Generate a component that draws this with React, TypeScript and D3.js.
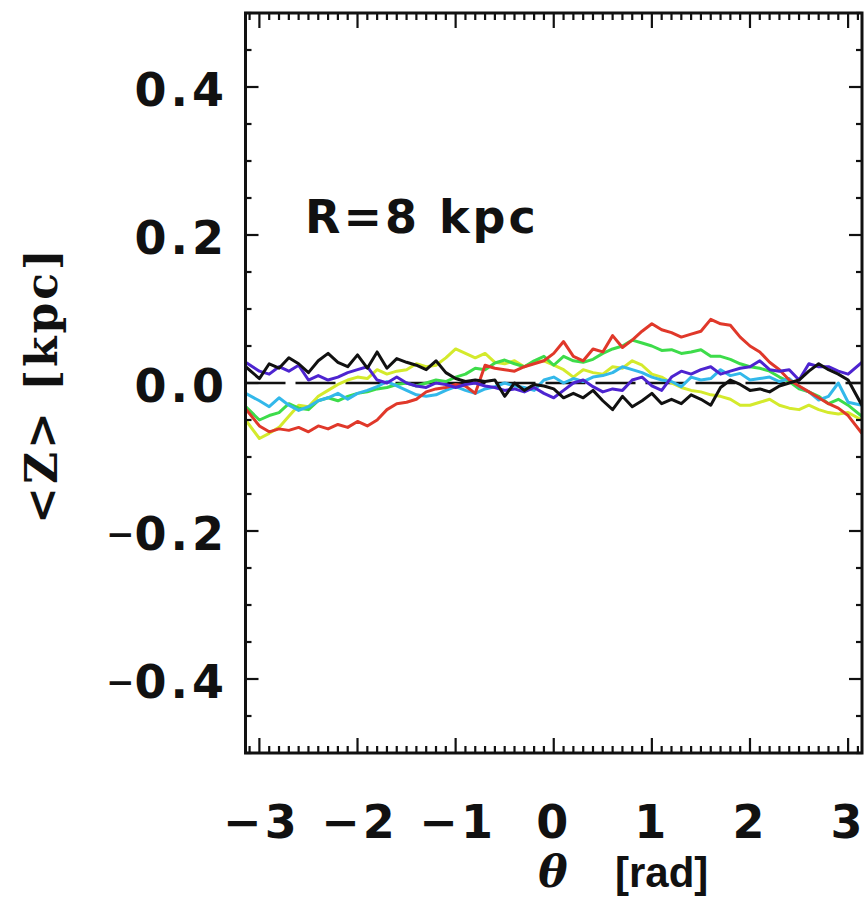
import React from "react";
import * as d3 from "d3";

const THETA = [-3.14, -3.0, -2.9, -2.8, -2.7, -2.6, -2.5, -2.4, -2.3, -2.2, -2.1, -2.0, -1.9, -1.8, -1.7, -1.6, -1.5, -1.4, -1.3, -1.2, -1.1, -1.0, -0.9, -0.8, -0.7, -0.6, -0.5, -0.4, -0.3, -0.2, -0.1, 0.0, 0.1, 0.2, 0.3, 0.4, 0.5, 0.6, 0.7, 0.8, 0.9, 1.0, 1.1, 1.2, 1.3, 1.4, 1.5, 1.6, 1.7, 1.8, 1.9, 2.0, 2.1, 2.2, 2.3, 2.4, 2.5, 2.6, 2.7, 2.8, 2.9, 3.0, 3.14];

const BLACK = [0.022, 0.006, 0.026, 0.02, 0.034, 0.026, 0.014, 0.03, 0.04, 0.028, 0.022, 0.038, 0.02, 0.042, 0.02, 0.033, 0.028, 0.024, 0.018, 0.03, 0.014, 0.006, 0.002, 0.004, 0.002, 0.004, -0.018, 0.0, -0.01, -0.002, -0.004, -0.008, -0.02, -0.014, -0.02, -0.01, -0.024, -0.036, -0.018, -0.032, -0.024, -0.014, -0.028, -0.022, -0.028, -0.016, -0.022, -0.03, -0.006, 0.004, -0.002, -0.01, -0.008, -0.012, -0.004, 0.0, 0.004, 0.016, 0.026, 0.018, 0.012, 0.004, -0.03];

const PURPLE = [0.028, 0.016, 0.012, 0.022, 0.016, 0.024, 0.004, 0.01, 0.004, 0.008, 0.014, 0.018, 0.022, 0.004, 0.0, 0.008, 0.0, -0.004, -0.006, 0.0, -0.002, -0.006, -0.002, 0.0, -0.004, -0.006, -0.01, -0.008, -0.012, -0.006, -0.014, -0.02, -0.01, 0.0, 0.004, -0.005, -0.012, -0.008, -0.01, 0.004, 0.008, -0.004, -0.01, 0.008, 0.016, 0.012, 0.018, 0.022, 0.012, 0.016, 0.02, 0.022, 0.03, 0.018, 0.016, 0.018, 0.004, 0.026, 0.022, 0.022, 0.016, 0.012, 0.028];

const CYAN = [-0.014, -0.024, -0.032, -0.02, -0.03, -0.037, -0.032, -0.024, -0.02, -0.014, -0.022, -0.014, -0.01, -0.005, 0.002, -0.004, -0.01, -0.016, -0.018, -0.016, -0.01, -0.005, -0.01, -0.014, -0.008, -0.005, 0.0, -0.004, -0.006, -0.01, 0.004, 0.008, 0.0, 0.006, 0.002, 0.008, 0.01, 0.014, 0.022, 0.018, 0.014, 0.008, 0.004, 0.002, -0.005, 0.008, 0.004, 0.006, 0.018, 0.01, 0.013, 0.004, 0.006, 0.008, 0.002, 0.006, -0.005, -0.012, -0.023, -0.018, 0.0, -0.026, -0.03];

const GREEN = [-0.032, -0.05, -0.044, -0.04, -0.028, -0.034, -0.036, -0.024, -0.02, -0.024, -0.018, -0.014, -0.012, -0.008, -0.006, -0.002, 0.0, -0.004, 0.0, 0.004, 0.002, 0.008, 0.012, 0.02, 0.018, 0.027, 0.031, 0.026, 0.022, 0.03, 0.036, 0.024, 0.036, 0.03, 0.028, 0.032, 0.04, 0.046, 0.05, 0.058, 0.054, 0.05, 0.044, 0.045, 0.04, 0.042, 0.045, 0.036, 0.036, 0.032, 0.026, 0.022, 0.02, 0.016, 0.008, 0.002, -0.008, -0.012, -0.018, -0.028, -0.022, -0.03, -0.045];

const YELLOW = [-0.05, -0.075, -0.068, -0.06, -0.045, -0.03, -0.032, -0.018, -0.01, -0.002, 0.004, 0.008, 0.006, 0.018, 0.012, 0.016, 0.018, 0.026, 0.022, 0.024, 0.034, 0.046, 0.04, 0.034, 0.04, 0.028, 0.026, 0.03, 0.022, 0.028, 0.03, 0.024, 0.018, 0.008, 0.018, 0.014, 0.012, 0.022, 0.02, 0.03, 0.024, 0.012, 0.008, 0.0, -0.006, -0.01, -0.012, -0.016, -0.018, -0.022, -0.03, -0.03, -0.026, -0.022, -0.03, -0.034, -0.036, -0.03, -0.036, -0.04, -0.042, -0.04, -0.05];

const RED = [-0.035, -0.058, -0.066, -0.062, -0.064, -0.06, -0.066, -0.058, -0.062, -0.056, -0.06, -0.052, -0.058, -0.05, -0.036, -0.028, -0.026, -0.022, -0.012, -0.008, -0.006, -0.002, -0.004, -0.014, 0.024, 0.02, 0.018, 0.016, 0.022, 0.026, 0.03, 0.04, 0.056, 0.036, 0.03, 0.046, 0.042, 0.064, 0.048, 0.058, 0.07, 0.08, 0.072, 0.068, 0.062, 0.066, 0.07, 0.086, 0.08, 0.078, 0.062, 0.05, 0.042, 0.028, 0.018, 0.004, -0.004, -0.012, -0.02, -0.028, -0.034, -0.044, -0.068];

const SERIES: { name: string; color: string; values: number[] }[] = [
  { name: "yellow", color: "#d4ea2c", values: YELLOW },
  { name: "green", color: "#3ddc4a", values: GREEN },
  { name: "cyan", color: "#33b8ea", values: CYAN },
  { name: "red", color: "#e0382a", values: RED },
  { name: "purple", color: "#4d24d0", values: PURPLE },
  { name: "black", color: "#111111", values: BLACK },
];

const X_TICKS = [-3, -2, -1, 0, 1, 2, 3];
const X_TICK_LABELS = ["\u22123", "\u22122", "\u22121", "0", "1", "2", "3"];
const Y_TICKS = [-0.4, -0.2, 0.0, 0.2, 0.4];
const Y_TICK_LABELS = ["\u22120.4", "\u22120.2", "0.0", "0.2", "0.4"];

export default function App() {
  const W = 867, H = 900;
  const L = 245.5, R = 862, T = 13, B = 753;
  const x = d3.scaleLinear().domain([-Math.PI, Math.PI]).range([L, R]);
  const y = d3.scaleLinear().domain([-0.5, 0.5]).range([B, T]);

  const line = d3
    .line<number>()
    .x((_, i) => x(THETA[i]))
    .y((d) => y(d));

  const xMinor = d3.range(-31, 32).map((k) => k / 10).filter((v) => Math.abs(v - Math.round(v)) > 1e-6);
  const yMinor = d3.range(-10, 11).map((k) => k * 0.05).filter((v) => Math.abs(v / 0.2 - Math.round(v / 0.2)) > 1e-6);

  const tickFont = "'DejaVu Sans', sans-serif";

  return (
    <svg width={W} height={H} style={{ position: "absolute", left: 0, top: 0, background: "#fff" }}>
      <rect x={0} y={0} width={W} height={H} fill="#fff" />
      <defs>
        <clipPath id="plotclip">
          <rect x={L} y={T} width={R - L} height={B - T} />
        </clipPath>
      </defs>

      {/* zero dashed line */}
      <line x1={L} x2={R} y1={y(0)} y2={y(0)} stroke="#111" strokeWidth={2.5} strokeDasharray="40,10" />

      <g clipPath="url(#plotclip)">
        {SERIES.map((s) => (
          <path key={s.name} d={line(s.values) || ""} fill="none" stroke={s.color} strokeWidth={3} strokeLinejoin="round" />
        ))}
      </g>

      {/* ticks */}
      <g stroke="#111" strokeWidth={2.2}>
        {X_TICKS.map((t) => (
          <g key={"xt" + t}>
            <line x1={x(t)} x2={x(t)} y1={B} y2={B - 15} />
            <line x1={x(t)} x2={x(t)} y1={T} y2={T + 15} />
          </g>
        ))}
        {xMinor.map((t) => (
          <g key={"xm" + t}>
            <line x1={x(t)} x2={x(t)} y1={B} y2={B - 7} />
            <line x1={x(t)} x2={x(t)} y1={T} y2={T + 7} />
          </g>
        ))}
        {Y_TICKS.map((t) => (
          <g key={"yt" + t}>
            <line x1={L} x2={L + 13} y1={y(t)} y2={y(t)} />
            <line x1={R} x2={R - 13} y1={y(t)} y2={y(t)} />
          </g>
        ))}
        {yMinor.map((t) => (
          <g key={"ym" + t}>
            <line x1={L} x2={L + 6} y1={y(t)} y2={y(t)} />
            <line x1={R} x2={R - 6} y1={y(t)} y2={y(t)} />
          </g>
        ))}
      </g>

      {/* frame */}
      <rect x={L} y={T} width={R - L} height={B - T} fill="none" stroke="#111" strokeWidth={3} />

      {/* y tick labels */}
      {Y_TICKS.map((t, i) => {
        const s = Y_TICK_LABELS[i];
        const neg = s.startsWith("\u2212");
        return (
          <text key={"yl" + t} x={228} y={y(t) + 19} textAnchor="end" fontFamily={tickFont} fontWeight="bold" fontSize={46} fill="#111" letterSpacing={4}>
            {neg ? (
              <>
                <tspan fontSize={34} letterSpacing={0} dy={-4}>{"\u2212"}</tspan>
                <tspan dy={4}>{s.slice(1)}</tspan>
              </>
            ) : (
              s
            )}
          </text>
        );
      })}

      {/* x tick labels */}
      {X_TICKS.map((t, i) => (
        <text key={"xl" + t} x={x(t) + (t < 0 ? 2 : 0)} y={838} textAnchor="middle" fontFamily={tickFont} fontWeight="bold" fontSize={46} fill="#111" letterSpacing={3}>
          {X_TICK_LABELS[i]}
        </text>
      ))}

      {/* annotation */}
      <text x={305} y={233} fontFamily={tickFont} fontWeight="bold" fontSize={46} fill="#111" letterSpacing={3}>
        {"R=8 kpc"}
      </text>

      {/* x axis title */}
      <text x={553} y={887} textAnchor="middle" fontFamily="'DejaVu Serif', serif" fontStyle="italic" fontWeight="bold" fontSize={44} fill="#111">
        θ
      </text>
      <text x={615} y={887} fontFamily="'Liberation Sans', Arial, sans-serif" fontWeight="bold" fontSize={42} fill="#111">
        [rad]
      </text>

      {/* y axis title */}
      <text transform={`translate(57, 385) rotate(-90)`} textAnchor="middle" fontFamily="'DejaVu Serif', serif" fontWeight="bold" fontSize={44} fill="#111" letterSpacing={3}>
        {"<Z>  [kpc]"}
      </text>
    </svg>
  );
}
